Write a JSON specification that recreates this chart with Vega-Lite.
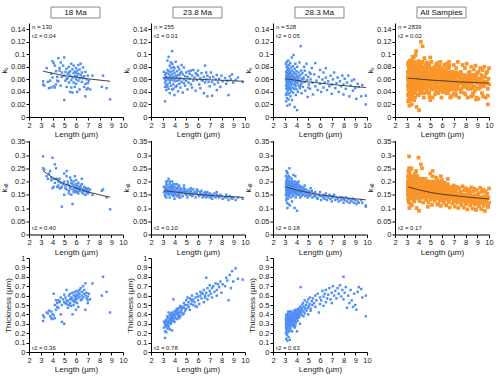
{
"$schema": "https://vega.github.io/schema/vega-lite/v6.json",
"padding": {"left": 0, "top": 6, "right": 0, "bottom": 0},
"data": {"format": {"type": "csv", "parse": {"L": "number", "ks": "number", "kse": "number", "th": "number"}}, "values": "g,L,ks,kse,th\na,3.2,0.057,0.295,0.33\na,3.2,0.052,0.25,0.39\na,3.3,0.050,0.245,0.37\na,3.5,0.078,0.22,0.42\na,3.7,0.046,0.23,0.44\na,3.8,0.058,0.24,0.38\na,3.9,0.047,0.205,0.36\na,3.9,0.069,0.215,0.43\na,4.0,0.089,0.29,0.40\na,4.0,0.063,0.175,0.35\na,4.1,0.049,0.21,0.62\na,4.1,0.086,0.18,0.39\na,4.2,0.082,0.265,0.36\na,4.3,0.073,0.25,0.55\na,4.3,0.052,0.21,0.45\na,4.4,0.064,0.18,0.52\na,4.5,0.094,0.2,0.55\na,4.5,0.057,0.185,0.47\na,4.6,0.078,0.21,0.54\na,4.7,0.050,0.175,0.40\na,4.7,0.087,0.195,0.58\na,4.8,0.064,0.105,0.32\na,4.8,0.071,0.18,0.5\na,4.9,0.082,0.19,0.56\na,5.0,0.027,0.15,0.30\na,5.0,0.066,0.2,0.61\na,5.0,0.095,0.23,0.53\na,5.1,0.072,0.185,0.52\na,5.1,0.058,0.175,0.58\na,5.2,0.077,0.22,0.55\na,5.2,0.048,0.17,0.66\na,5.3,0.069,0.19,0.47\na,5.3,0.062,0.2,0.54\na,5.4,0.080,0.165,0.6\na,5.4,0.055,0.185,0.5\na,5.5,0.040,0.215,0.56\na,5.5,0.073,0.18,0.62\na,5.5,0.066,0.175,0.52\na,5.6,0.085,0.195,0.58\na,5.6,0.059,0.205,0.49\na,5.7,0.039,0.115,0.40\na,5.7,0.076,0.17,0.55\na,5.7,0.063,0.19,0.63\na,5.8,0.082,0.185,0.54\na,5.8,0.055,0.16,0.6\na,5.8,0.070,0.2,0.5\na,5.9,0.065,0.175,0.57\na,5.9,0.048,0.165,0.64\na,6.0,0.078,0.18,0.59\na,6.0,0.060,0.19,0.61\na,6.0,0.070,0.205,0.55\na,6.1,0.040,0.17,0.52\na,6.1,0.074,0.16,0.65\na,6.1,0.065,0.185,0.57\na,6.2,0.083,0.175,0.63\na,6.2,0.058,0.195,0.6\na,6.2,0.069,0.155,0.48\na,6.3,0.076,0.17,0.66\na,6.3,0.062,0.18,0.58\na,6.3,0.044,0.165,0.62\na,6.4,0.085,0.185,0.68\na,6.4,0.067,0.175,0.55\na,6.5,0.071,0.16,0.6\na,6.5,0.056,0.19,0.64\na,6.6,0.079,0.17,0.58\na,6.6,0.062,0.155,0.7\na,6.7,0.065,0.18,0.62\na,6.7,0.048,0.165,0.66\na,6.8,0.053,0.17,0.45\na,6.8,0.072,0.15,0.73\na,6.8,0.033,0.175,0.6\na,6.9,0.060,0.16,0.57\na,6.9,0.044,0.17,0.63\na,7.0,0.046,0.165,0.55\na,7.0,0.066,0.155,0.59\na,7.0,0.054,0.175,0.52\na,7.1,0.058,0.16,0.62\na,7.2,0.044,0.17,0.56\na,7.4,0.066,0.15,0.73\na,8.2,0.048,0.165,0.60\na,8.3,0.066,0.17,0.80\na,8.6,0.046,0.14,0.64\na,8.9,0.028,0.095,0.42\na,3.6,0.056,0.21,0.41\na,4.2,0.047,0.195,0.5\na,4.4,0.058,0.21,0.48\na,4.6,0.074,0.175,0.53\na,5.2,0.061,0.24,0.51\na,5.9,0.072,0.22,0.53\na,6.5,0.063,0.21,0.56\na,6.0,0.053,0.16,0.45\na,5.4,0.071,0.155,0.5\na,5.6,0.047,0.15,0.57\nb,3.1,0.062,0.16,0.26\nb,3.2,0.025,0.15,0.15\nb,3.2,0.048,0.18,0.31\nb,3.2,0.067,0.17,0.33\nb,3.2,0.055,0.145,0.22\nb,3.3,0.070,0.19,0.30\nb,3.3,0.058,0.16,0.27\nb,3.3,0.043,0.175,0.34\nb,3.4,0.090,0.2,0.36\nb,3.4,0.062,0.155,0.29\nb,3.4,0.052,0.17,0.25\nb,3.4,0.075,0.185,0.38\nb,3.5,0.096,0.21,0.33\nb,3.5,0.060,0.165,0.31\nb,3.5,0.045,0.15,0.42\nb,3.5,0.069,0.175,0.28\nb,3.6,0.082,0.18,0.35\nb,3.6,0.055,0.16,0.32\nb,3.6,0.066,0.19,0.39\nb,3.6,0.038,0.14,0.24\nb,3.7,0.078,0.17,0.37\nb,3.7,0.063,0.155,0.33\nb,3.7,0.050,0.18,0.41\nb,3.7,0.072,0.165,0.30\nb,3.8,0.105,0.2,0.36\nb,3.8,0.059,0.16,0.39\nb,3.8,0.068,0.175,0.34\nb,3.8,0.044,0.15,0.23\nb,3.8,0.085,0.185,0.42\nb,3.9,0.064,0.17,0.38\nb,3.9,0.074,0.16,0.56\nb,3.9,0.052,0.145,0.35\nb,3.9,0.080,0.19,0.40\nb,4.0,0.061,0.165,0.37\nb,4.0,0.070,0.18,0.43\nb,4.0,0.035,0.135,0.32\nb,4.0,0.057,0.155,0.39\nb,4.1,0.088,0.19,0.41\nb,4.1,0.066,0.17,0.36\nb,4.1,0.048,0.15,0.44\nb,4.2,0.073,0.175,0.40\nb,4.2,0.058,0.16,0.35\nb,4.2,0.063,0.145,0.46\nb,4.3,0.080,0.18,0.42\nb,4.3,0.041,0.155,0.38\nb,4.3,0.067,0.17,0.45\nb,4.4,0.059,0.16,0.41\nb,4.4,0.076,0.185,0.39\nb,4.4,0.053,0.15,0.47\nb,4.5,0.070,0.165,0.43\nb,4.5,0.062,0.175,0.38\nb,4.5,0.047,0.14,0.49\nb,4.6,0.072,0.17,0.45\nb,4.6,0.056,0.155,0.42\nb,4.7,0.068,0.16,0.48\nb,4.7,0.039,0.145,0.40\nb,4.8,0.079,0.175,0.47\nb,4.8,0.060,0.165,0.52\nb,4.9,0.065,0.155,0.44\nb,4.9,0.050,0.17,0.50\nb,5.0,0.071,0.16,0.55\nb,5.0,0.058,0.15,0.46\nb,5.1,0.064,0.165,0.50\nb,5.1,0.044,0.14,0.58\nb,5.2,0.073,0.17,0.48\nb,5.2,0.055,0.155,0.53\nb,5.3,0.061,0.16,0.57\nb,5.3,0.069,0.15,0.45\nb,5.4,0.052,0.165,0.51\nb,5.5,0.066,0.155,0.54\nb,5.5,0.047,0.145,0.60\nb,5.6,0.075,0.17,0.50\nb,5.6,0.058,0.15,0.56\nb,5.7,0.063,0.16,0.53\nb,5.8,0.070,0.155,0.58\nb,5.8,0.042,0.14,0.49\nb,5.9,0.059,0.16,0.62\nb,6.0,0.066,0.15,0.55\nb,6.0,0.074,0.165,0.59\nb,6.1,0.052,0.145,0.51\nb,6.2,0.062,0.155,0.60\nb,6.2,0.046,0.16,0.64\nb,6.3,0.070,0.15,0.57\nb,6.4,0.058,0.14,0.62\nb,6.5,0.064,0.155,0.53\nb,6.5,0.038,0.145,0.66\nb,6.6,0.082,0.16,0.60\nb,6.6,0.055,0.15,0.58\nb,6.7,0.060,0.14,0.79\nb,6.7,0.071,0.155,0.63\nb,6.8,0.033,0.145,0.56\nb,6.8,0.066,0.16,0.68\nb,6.9,0.056,0.15,0.60\nb,7.0,0.063,0.14,0.65\nb,7.0,0.049,0.155,0.71\nb,7.1,0.071,0.145,0.62\nb,7.2,0.056,0.15,0.68\nb,7.2,0.034,0.135,0.58\nb,7.3,0.064,0.145,0.70\nb,7.4,0.052,0.155,0.64\nb,7.5,0.060,0.14,0.73\nb,7.6,0.067,0.15,0.66\nb,7.7,0.055,0.145,0.72\nb,7.8,0.061,0.14,0.69\nb,7.9,0.048,0.15,0.75\nb,8.0,0.066,0.145,0.63\nb,8.1,0.057,0.135,0.72\nb,8.3,0.062,0.14,0.70\nb,8.4,0.053,0.15,0.79\nb,8.5,0.058,0.14,0.76\nb,8.6,0.035,0.13,0.55\nb,8.7,0.065,0.145,0.82\nb,8.8,0.060,0.14,0.68\nb,8.9,0.068,0.135,0.86\nb,9.0,0.055,0.14,0.75\nb,9.2,0.059,0.13,0.89\nb,9.4,0.063,0.14,0.78\nb,9.8,0.056,0.135,0.77\nb,3.3,0.064,0.2,0.28\nb,3.4,0.048,0.165,0.32\nb,3.5,0.073,0.155,0.26\nb,3.6,0.059,0.2,0.36\nb,3.7,0.087,0.16,0.31\nb,3.9,0.045,0.18,0.33\nb,4.0,0.078,0.15,0.40\nb,4.2,0.050,0.19,0.42\nb,4.4,0.067,0.14,0.36\nb,4.6,0.083,0.16,0.47\nb,4.8,0.054,0.185,0.41\nb,5.4,0.074,0.175,0.56\nb,5.9,0.068,0.17,0.48\nb,6.3,0.059,0.165,0.63\nb,7.6,0.043,0.16,0.60\nb,3.2,0.060,0.16,0.29\nb,3.3,0.051,0.14,0.21\nb,3.1,0.072,0.18,0.32\nc,3.10,0.060,0.18,0.30\nc,3.10,0.085,0.22,0.35\nc,3.10,0.035,0.15,0.20\nc,3.11,0.050,0.19,0.27\nc,3.12,0.072,0.17,0.38\nc,3.12,0.025,0.13,0.14\nc,3.13,0.065,0.2,0.33\nc,3.14,0.045,0.16,0.25\nc,3.15,0.080,0.24,0.40\nc,3.15,0.055,0.175,0.31\nc,3.16,0.038,0.14,0.22\nc,3.17,0.068,0.19,0.36\nc,3.18,0.058,0.21,0.28\nc,3.18,0.088,0.17,0.34\nc,3.19,0.030,0.12,0.18\nc,3.20,0.062,0.185,0.32\nc,3.20,0.048,0.155,0.26\nc,3.21,0.075,0.2,0.37\nc,3.22,0.053,0.165,0.29\nc,3.22,0.018,0.1,0.12\nc,3.23,0.070,0.23,0.39\nc,3.24,0.042,0.15,0.24\nc,3.25,0.064,0.18,0.33\nc,3.25,0.082,0.195,0.30\nc,3.26,0.056,0.17,0.35\nc,3.27,0.036,0.135,0.21\nc,3.28,0.078,0.215,0.41\nc,3.28,0.060,0.16,0.28\nc,3.29,0.047,0.18,0.31\nc,3.30,0.067,0.19,0.36\nc,3.30,0.090,0.205,0.33\nc,3.31,0.052,0.15,0.27\nc,3.32,0.028,0.115,0.16\nc,3.33,0.063,0.175,0.34\nc,3.34,0.073,0.22,0.38\nc,3.35,0.044,0.165,0.29\nc,3.36,0.058,0.185,0.32\nc,3.37,0.083,0.2,0.42\nc,3.38,0.050,0.145,0.25\nc,3.39,0.066,0.17,0.35\nc,3.40,0.038,0.155,0.30\nc,3.40,0.076,0.195,0.37\nc,3.42,0.055,0.175,0.31\nc,3.43,0.020,0.11,0.13\nc,3.44,0.069,0.185,0.39\nc,3.45,0.061,0.16,0.28\nc,3.46,0.086,0.215,0.34\nc,3.47,0.046,0.17,0.36\nc,3.48,0.057,0.19,0.40\nc,3.50,0.072,0.175,0.32\nc,3.50,0.033,0.14,0.26\nc,3.52,0.064,0.2,0.37\nc,3.53,0.051,0.165,0.30\nc,3.55,0.079,0.185,0.43\nc,3.56,0.041,0.155,0.33\nc,3.57,0.059,0.17,0.35\nc,3.58,0.068,0.195,0.29\nc,3.60,0.095,0.21,0.41\nc,3.60,0.054,0.16,0.34\nc,3.62,0.027,0.125,0.22\nc,3.63,0.063,0.18,0.38\nc,3.65,0.074,0.17,0.31\nc,3.66,0.047,0.19,0.36\nc,3.68,0.058,0.15,0.40\nc,3.70,0.081,0.2,0.37\nc,3.70,0.066,0.175,0.33\nc,3.72,0.039,0.145,0.28\nc,3.74,0.060,0.185,0.42\nc,3.75,0.099,0.225,0.39\nc,3.77,0.052,0.165,0.35\nc,3.79,0.070,0.18,0.30\nc,3.80,0.045,0.16,0.44\nc,3.82,0.064,0.19,0.38\nc,3.84,0.016,0.1,0.26\nc,3.85,0.077,0.17,0.41\nc,3.87,0.056,0.155,0.36\nc,3.89,0.062,0.2,0.33\nc,3.90,0.085,0.185,0.43\nc,3.92,0.049,0.165,0.39\nc,3.94,0.035,0.14,0.31\nc,3.95,0.068,0.175,0.45\nc,3.97,0.058,0.19,0.37\nc,4.00,0.073,0.16,0.42\nc,4.00,0.044,0.15,0.35\nc,4.02,0.063,0.18,0.40\nc,4.05,0.011,0.09,0.22\nc,4.06,0.080,0.195,0.44\nc,4.08,0.054,0.17,0.38\nc,4.10,0.066,0.155,0.41\nc,4.12,0.040,0.165,0.36\nc,4.15,0.059,0.18,0.46\nc,4.18,0.071,0.2,0.39\nc,4.20,0.050,0.15,0.43\nc,4.22,0.063,0.17,0.37\nc,4.25,0.087,0.185,0.45\nc,4.28,0.046,0.16,0.41\nc,4.30,0.057,0.14,0.48\nc,4.33,0.067,0.175,0.40\nc,4.35,0.113,0.18,0.69\nc,4.38,0.052,0.155,0.44\nc,4.40,0.074,0.17,0.42\nc,4.43,0.038,0.145,0.47\nc,4.45,0.061,0.165,0.39\nc,4.48,0.055,0.18,0.50\nc,4.5,0.070,0.16,0.45\nc,4.55,0.048,0.15,0.52\nc,4.6,0.063,0.175,0.43\nc,4.65,0.080,0.165,0.48\nc,4.7,0.056,0.155,0.55\nc,4.75,0.042,0.145,0.46\nc,4.8,0.067,0.17,0.50\nc,4.85,0.085,0.16,0.44\nc,4.9,0.059,0.15,0.53\nc,4.95,0.032,0.14,0.47\nc,5.0,0.064,0.165,0.56\nc,5.05,0.052,0.155,0.49\nc,5.1,0.071,0.145,0.51\nc,5.15,0.045,0.16,0.58\nc,5.2,0.060,0.15,0.46\nc,5.3,0.078,0.165,0.54\nc,5.35,0.055,0.14,0.50\nc,5.4,0.036,0.155,0.57\nc,5.5,0.068,0.145,0.52\nc,5.6,0.049,0.15,0.48\nc,5.6,0.086,0.16,0.60\nc,5.7,0.058,0.14,0.55\nc,5.8,0.043,0.135,0.62\nc,5.9,0.064,0.15,0.42\nc,6.0,0.053,0.145,0.58\nc,6.0,0.075,0.16,0.51\nc,6.1,0.040,0.13,0.55\nc,6.2,0.060,0.145,0.65\nc,6.3,0.071,0.15,0.49\nc,6.3,0.047,0.14,0.59\nc,6.4,0.055,0.135,0.62\nc,6.5,0.078,0.155,0.53\nc,6.5,0.063,0.145,0.66\nc,6.6,0.043,0.13,0.57\nc,6.7,0.057,0.14,0.61\nc,6.8,0.049,0.15,0.68\nc,6.9,0.066,0.135,0.56\nc,7.0,0.052,0.145,0.63\nc,7.0,0.037,0.125,0.52\nc,7.1,0.060,0.14,0.70\nc,7.2,0.071,0.15,0.60\nc,7.3,0.046,0.13,0.65\nc,7.4,0.054,0.14,0.57\nc,7.5,0.063,0.135,0.68\nc,7.6,0.040,0.125,0.62\nc,7.7,0.057,0.14,0.71\nc,7.8,0.049,0.13,0.59\nc,7.9,0.066,0.14,0.66\nc,8.0,0.052,0.135,0.80\nc,8.0,0.036,0.12,0.56\nc,8.1,0.061,0.13,0.63\nc,8.2,0.045,0.14,0.69\nc,8.3,0.055,0.125,0.47\nc,8.4,0.066,0.135,0.60\nc,8.5,0.033,0.12,0.52\nc,8.6,0.050,0.13,0.66\nc,8.7,0.058,0.125,0.55\nc,8.8,0.042,0.135,0.48\nc,8.9,0.060,0.12,0.62\nc,9.0,0.046,0.13,0.50\nc,9.1,0.029,0.115,0.45\nc,9.2,0.053,0.125,0.64\nc,9.3,0.048,0.12,0.69\nc,9.5,0.033,0.13,0.67\nc,9.6,0.051,0.12,0.58\nc,9.9,0.034,0.11,0.60\nc,9.9,0.020,0.105,0.38\nc,3.6,0.062,0.165,0.39\nc,3.8,0.071,0.175,0.27\nc,4.1,0.058,0.19,0.33\nc,4.3,0.049,0.165,0.30\nc,4.6,0.061,0.17,0.38\nc,4.7,0.074,0.185,0.41\nc,5.0,0.047,0.16,0.40\nc,5.2,0.069,0.175,0.44\nc,3.15,0.064,0.2,0.24\nc,3.35,0.070,0.155,0.22\nc,3.5,0.045,0.18,0.23\nc,3.2,0.051,0.235,0.36\nc,3.4,0.059,0.25,0.43\nc,3.3,0.075,0.16,0.43\nc,3.9,0.052,0.22,0.28\no,3.10,0.072,0.198,\no,3.15,0.045,0.148,\no,3.20,0.061,0.183,\no,3.25,0.083,0.218,\no,3.30,0.052,0.163,\no,3.35,0.067,0.138,\no,3.40,0.038,0.203,\no,3.45,0.078,0.173,\no,3.50,0.057,0.207,\no,3.55,0.049,0.147,\no,3.60,0.088,0.182,\no,3.65,0.064,0.127,\no,3.70,0.031,0.202,\no,3.75,0.070,0.162,\no,3.80,0.055,0.187,\no,3.85,0.072,0.192,\no,3.90,0.045,0.142,\no,3.95,0.061,0.177,\no,4.00,0.083,0.206,\no,4.05,0.052,0.151,\no,4.10,0.067,0.126,\no,4.15,0.038,0.191,\no,4.20,0.120,0.161,\no,4.25,0.057,0.201,\no,4.30,0.049,0.141,\no,4.35,0.088,0.176,\no,4.40,0.064,0.121,\no,4.45,0.031,0.196,\no,4.50,0.070,0.151,\no,4.55,0.055,0.176,\no,4.60,0.072,0.181,\no,4.65,0.045,0.131,\no,4.70,0.061,0.166,\no,4.75,0.083,0.201,\no,4.80,0.052,0.146,\no,4.85,0.067,0.121,\no,4.90,0.038,0.186,\no,4.95,0.078,0.156,\no,5.00,0.057,0.192,\no,5.05,0.049,0.132,\no,5.10,0.088,0.167,\no,5.15,0.064,0.112,\no,5.20,0.031,0.187,\no,5.25,0.070,0.147,\no,5.30,0.055,0.172,\no,5.35,0.072,0.177,\no,5.40,0.045,0.127,\no,5.45,0.061,0.162,\no,5.50,0.083,0.193,\no,5.55,0.052,0.138,\no,5.60,0.067,0.113,\no,5.65,0.038,0.178,\no,5.70,0.078,0.148,\no,5.75,0.057,0.188,\no,5.80,0.049,0.128,\no,5.85,0.088,0.163,\no,5.90,0.064,0.108,\no,5.95,0.031,0.183,\no,6.00,0.070,0.14,\no,6.05,0.055,0.165,\no,6.10,0.072,0.17,\no,6.15,0.045,0.12,\no,6.20,0.061,0.155,\no,6.25,0.083,0.19,\no,6.30,0.052,0.135,\no,6.35,0.067,0.11,\no,6.40,0.038,0.175,\no,6.45,0.078,0.145,\no,6.50,0.057,0.182,\no,6.55,0.049,0.122,\no,6.60,0.088,0.157,\no,6.65,0.064,0.102,\no,6.70,0.031,0.177,\no,6.75,0.070,0.137,\no,6.80,0.055,0.162,\no,6.85,0.072,0.167,\no,6.90,0.045,0.117,\no,6.95,0.061,0.152,\no,7.00,0.083,0.185,\no,7.05,0.052,0.13,\no,7.10,0.067,0.105,\no,7.15,0.038,0.17,\no,7.20,0.078,0.14,\no,7.25,0.057,0.18,\no,7.30,0.049,0.12,\no,7.35,0.088,0.155,\no,7.40,0.064,0.1,\no,7.45,0.031,0.175,\no,7.50,0.070,0.132,\no,7.55,0.055,0.157,\no,7.60,0.072,0.162,\no,7.65,0.045,0.112,\no,7.70,0.061,0.147,\no,7.75,0.083,0.182,\no,7.80,0.052,0.127,\no,7.85,0.067,0.102,\no,7.90,0.038,0.167,\no,7.95,0.078,0.137,\no,8.00,0.057,0.175,\no,8.05,0.049,0.115,\no,8.10,0.085,0.15,\no,8.15,0.064,0.095,\no,8.20,0.031,0.17,\no,8.25,0.070,0.13,\no,8.30,0.055,0.155,\no,8.35,0.072,0.16,\no,8.40,0.045,0.11,\no,8.45,0.061,0.145,\no,8.50,0.080,0.178,\no,8.55,0.052,0.123,\no,8.60,0.067,0.098,\no,8.65,0.038,0.163,\no,8.70,0.076,0.133,\no,8.75,0.057,0.173,\no,8.80,0.049,0.113,\no,8.85,0.082,0.148,\no,8.90,0.064,0.093,\no,8.95,0.031,0.168,\no,9.00,0.070,0.126,\no,9.05,0.055,0.151,\no,9.10,0.072,0.156,\no,9.15,0.045,0.106,\no,9.20,0.061,0.141,\no,9.25,0.078,0.176,\no,9.30,0.052,0.121,\no,9.35,0.067,0.096,\no,9.40,0.038,0.161,\no,9.45,0.075,0.131,\no,9.50,0.057,0.169,\no,9.55,0.049,0.109,\no,9.60,0.080,0.144,\no,9.65,0.064,0.089,\no,9.70,0.031,0.164,\no,9.75,0.070,0.124,\no,9.80,0.055,0.149,\no,9.85,0.072,0.154,\no,9.90,0.045,0.104,\no,9.95,0.061,0.139,\no,10.0,0.078,0.174,\no,10.0,0.052,0.12,"},
"columns": 4,
"spacing": {"column": 28, "row": 23.5},
"bounds": "flush",
"concat": [
 {"width": 94, "height": 94,
  "layer": [
   {"transform": [{"filter": "datum.g == 'a'"}], "mark": {"type": "point", "shape": "square", "filled": true, "size": 6, "color": "#4f8ff5", "opacity": 1},
    "encoding": {"x": {"field": "L", "type": "quantitative", "scale": {"domain": [2, 10], "nice": false, "zero": false}, "axis": {"values": [2,3,4,5,6,7,8,9,10], "title": "Length (µm)"}},
                 "y": {"field": "ks", "type": "quantitative", "scale": {"domain": [0, 0.15], "nice": false, "zero": false}, "axis": {"values": [0,0.02,0.04,0.06,0.08,0.1,0.12,0.14], "format": "~g", "title": "kₛ"}}}},
   {"data": {"values": [{"L": 3.2, "ks": 0.073}, {"L": 5, "ks": 0.066}, {"L": 7, "ks": 0.061}, {"L": 8.9, "ks": 0.057}]}, "mark": {"type": "line", "color": "#444", "strokeWidth": 1},
    "encoding": {"x": {"field": "L", "type": "quantitative", "scale": {"domain": [2, 10], "nice": false, "zero": false}, "axis": {"values": [2,3,4,5,6,7,8,9,10], "title": "Length (µm)"}},
                 "y": {"field": "ks", "type": "quantitative", "scale": {"domain": [0, 0.15], "nice": false, "zero": false}, "axis": {"values": [0,0.02,0.04,0.06,0.08,0.1,0.12,0.14], "format": "~g", "title": "kₛ"}}}},
   {"data": {"values": [{"t": "n = 130"}]}, "mark": {"type": "text", "align": "left", "fontSize": 6, "color": "#222"},
    "encoding": {"x": {"datum": 2.25, "type": "quantitative", "scale": {"domain": [2, 10], "nice": false, "zero": false}, "axis": {"values": [2,3,4,5,6,7,8,9,10], "title": "Length (µm)"}},
                 "y": {"datum": 0.143, "type": "quantitative", "scale": {"domain": [0, 0.15], "nice": false, "zero": false}, "axis": {"values": [0,0.02,0.04,0.06,0.08,0.1,0.12,0.14], "format": "~g", "title": "kₛ"}}, "text": {"field": "t"}}},
   {"data": {"values": [{"t": "r2 = 0.04"}]}, "mark": {"type": "text", "align": "left", "fontSize": 6, "color": "#222"},
    "encoding": {"x": {"datum": 2.25, "type": "quantitative", "scale": {"domain": [2, 10], "nice": false, "zero": false}, "axis": {"values": [2,3,4,5,6,7,8,9,10], "title": "Length (µm)"}},
                 "y": {"datum": 0.13, "type": "quantitative", "scale": {"domain": [0, 0.15], "nice": false, "zero": false}, "axis": {"values": [0,0.02,0.04,0.06,0.08,0.1,0.12,0.14], "format": "~g", "title": "kₛ"}}, "text": {"field": "t"}}},
   {"data": {"values": [{"t": "18 Ma"}]}, "mark": {"type": "rect", "fill": "white", "stroke": "#888", "strokeWidth": 1},
    "encoding": {"x": {"datum": 3.87, "type": "quantitative", "scale": {"domain": [2, 10], "nice": false, "zero": false}, "axis": {"values": [2,3,4,5,6,7,8,9,10], "title": "Length (µm)"}}, "x2": {"datum": 8.04},
                 "y": {"datum": 0.158, "type": "quantitative", "scale": {"domain": [0, 0.15], "nice": false, "zero": false}, "axis": {"values": [0,0.02,0.04,0.06,0.08,0.1,0.12,0.14], "format": "~g", "title": "kₛ"}}, "y2": {"datum": 0.1755}}},
   {"data": {"values": [{"t": "18 Ma"}]}, "mark": {"type": "text", "fontSize": 8, "color": "#111"},
    "encoding": {"x": {"datum": 5.955, "type": "quantitative", "scale": {"domain": [2, 10], "nice": false, "zero": false}, "axis": {"values": [2,3,4,5,6,7,8,9,10], "title": "Length (µm)"}},
                 "y": {"datum": 0.1667, "type": "quantitative", "scale": {"domain": [0, 0.15], "nice": false, "zero": false}, "axis": {"values": [0,0.02,0.04,0.06,0.08,0.1,0.12,0.14], "format": "~g", "title": "kₛ"}}, "text": {"field": "t"}}}
  ]},
 {"width": 94, "height": 94,
  "layer": [
   {"transform": [{"filter": "datum.g == 'b'"}], "mark": {"type": "point", "shape": "square", "filled": true, "size": 6, "color": "#4f8ff5", "opacity": 1},
    "encoding": {"x": {"field": "L", "type": "quantitative", "scale": {"domain": [2, 10], "nice": false, "zero": false}, "axis": {"values": [2,3,4,5,6,7,8,9,10], "title": "Length (µm)"}},
                 "y": {"field": "ks", "type": "quantitative", "scale": {"domain": [0, 0.15], "nice": false, "zero": false}, "axis": {"values": [0,0.02,0.04,0.06,0.08,0.1,0.12,0.14], "format": "~g", "title": "kₛ"}}}},
   {"data": {"values": [{"L": 3.1, "ks": 0.063}, {"L": 5, "ks": 0.061}, {"L": 7.5, "ks": 0.059}, {"L": 9.9, "ks": 0.057}]}, "mark": {"type": "line", "color": "#444", "strokeWidth": 1},
    "encoding": {"x": {"field": "L", "type": "quantitative", "scale": {"domain": [2, 10], "nice": false, "zero": false}, "axis": {"values": [2,3,4,5,6,7,8,9,10], "title": "Length (µm)"}},
                 "y": {"field": "ks", "type": "quantitative", "scale": {"domain": [0, 0.15], "nice": false, "zero": false}, "axis": {"values": [0,0.02,0.04,0.06,0.08,0.1,0.12,0.14], "format": "~g", "title": "kₛ"}}}},
   {"data": {"values": [{"t": "n = 255"}]}, "mark": {"type": "text", "align": "left", "fontSize": 6, "color": "#222"},
    "encoding": {"x": {"datum": 2.25, "type": "quantitative", "scale": {"domain": [2, 10], "nice": false, "zero": false}, "axis": {"values": [2,3,4,5,6,7,8,9,10], "title": "Length (µm)"}},
                 "y": {"datum": 0.143, "type": "quantitative", "scale": {"domain": [0, 0.15], "nice": false, "zero": false}, "axis": {"values": [0,0.02,0.04,0.06,0.08,0.1,0.12,0.14], "format": "~g", "title": "kₛ"}}, "text": {"field": "t"}}},
   {"data": {"values": [{"t": "r2 = 0.01"}]}, "mark": {"type": "text", "align": "left", "fontSize": 6, "color": "#222"},
    "encoding": {"x": {"datum": 2.25, "type": "quantitative", "scale": {"domain": [2, 10], "nice": false, "zero": false}, "axis": {"values": [2,3,4,5,6,7,8,9,10], "title": "Length (µm)"}},
                 "y": {"datum": 0.13, "type": "quantitative", "scale": {"domain": [0, 0.15], "nice": false, "zero": false}, "axis": {"values": [0,0.02,0.04,0.06,0.08,0.1,0.12,0.14], "format": "~g", "title": "kₛ"}}, "text": {"field": "t"}}},
   {"data": {"values": [{"t": "23.8 Ma"}]}, "mark": {"type": "rect", "fill": "white", "stroke": "#888", "strokeWidth": 1},
    "encoding": {"x": {"datum": 3.87, "type": "quantitative", "scale": {"domain": [2, 10], "nice": false, "zero": false}, "axis": {"values": [2,3,4,5,6,7,8,9,10], "title": "Length (µm)"}}, "x2": {"datum": 8.04},
                 "y": {"datum": 0.158, "type": "quantitative", "scale": {"domain": [0, 0.15], "nice": false, "zero": false}, "axis": {"values": [0,0.02,0.04,0.06,0.08,0.1,0.12,0.14], "format": "~g", "title": "kₛ"}}, "y2": {"datum": 0.1755}}},
   {"data": {"values": [{"t": "23.8 Ma"}]}, "mark": {"type": "text", "fontSize": 8, "color": "#111"},
    "encoding": {"x": {"datum": 5.955, "type": "quantitative", "scale": {"domain": [2, 10], "nice": false, "zero": false}, "axis": {"values": [2,3,4,5,6,7,8,9,10], "title": "Length (µm)"}},
                 "y": {"datum": 0.1667, "type": "quantitative", "scale": {"domain": [0, 0.15], "nice": false, "zero": false}, "axis": {"values": [0,0.02,0.04,0.06,0.08,0.1,0.12,0.14], "format": "~g", "title": "kₛ"}}, "text": {"field": "t"}}}
  ]},
 {"width": 94, "height": 94,
  "layer": [
   {"transform": [{"filter": "datum.g == 'c'"}], "mark": {"type": "point", "shape": "square", "filled": true, "size": 6, "color": "#4f8ff5", "opacity": 1},
    "encoding": {"x": {"field": "L", "type": "quantitative", "scale": {"domain": [2, 10], "nice": false, "zero": false}, "axis": {"values": [2,3,4,5,6,7,8,9,10], "title": "Length (µm)"}},
                 "y": {"field": "ks", "type": "quantitative", "scale": {"domain": [0, 0.15], "nice": false, "zero": false}, "axis": {"values": [0,0.02,0.04,0.06,0.08,0.1,0.12,0.14], "format": "~g", "title": "kₛ"}}}},
   {"data": {"values": [{"L": 3.1, "ks": 0.061}, {"L": 5, "ks": 0.056}, {"L": 7.5, "ks": 0.051}, {"L": 9.9, "ks": 0.047}]}, "mark": {"type": "line", "color": "#444", "strokeWidth": 1},
    "encoding": {"x": {"field": "L", "type": "quantitative", "scale": {"domain": [2, 10], "nice": false, "zero": false}, "axis": {"values": [2,3,4,5,6,7,8,9,10], "title": "Length (µm)"}},
                 "y": {"field": "ks", "type": "quantitative", "scale": {"domain": [0, 0.15], "nice": false, "zero": false}, "axis": {"values": [0,0.02,0.04,0.06,0.08,0.1,0.12,0.14], "format": "~g", "title": "kₛ"}}}},
   {"data": {"values": [{"t": "n = 528"}]}, "mark": {"type": "text", "align": "left", "fontSize": 6, "color": "#222"},
    "encoding": {"x": {"datum": 2.25, "type": "quantitative", "scale": {"domain": [2, 10], "nice": false, "zero": false}, "axis": {"values": [2,3,4,5,6,7,8,9,10], "title": "Length (µm)"}},
                 "y": {"datum": 0.143, "type": "quantitative", "scale": {"domain": [0, 0.15], "nice": false, "zero": false}, "axis": {"values": [0,0.02,0.04,0.06,0.08,0.1,0.12,0.14], "format": "~g", "title": "kₛ"}}, "text": {"field": "t"}}},
   {"data": {"values": [{"t": "r2 = 0.05"}]}, "mark": {"type": "text", "align": "left", "fontSize": 6, "color": "#222"},
    "encoding": {"x": {"datum": 2.25, "type": "quantitative", "scale": {"domain": [2, 10], "nice": false, "zero": false}, "axis": {"values": [2,3,4,5,6,7,8,9,10], "title": "Length (µm)"}},
                 "y": {"datum": 0.13, "type": "quantitative", "scale": {"domain": [0, 0.15], "nice": false, "zero": false}, "axis": {"values": [0,0.02,0.04,0.06,0.08,0.1,0.12,0.14], "format": "~g", "title": "kₛ"}}, "text": {"field": "t"}}},
   {"data": {"values": [{"t": "28.3 Ma"}]}, "mark": {"type": "rect", "fill": "white", "stroke": "#888", "strokeWidth": 1},
    "encoding": {"x": {"datum": 3.87, "type": "quantitative", "scale": {"domain": [2, 10], "nice": false, "zero": false}, "axis": {"values": [2,3,4,5,6,7,8,9,10], "title": "Length (µm)"}}, "x2": {"datum": 8.04},
                 "y": {"datum": 0.158, "type": "quantitative", "scale": {"domain": [0, 0.15], "nice": false, "zero": false}, "axis": {"values": [0,0.02,0.04,0.06,0.08,0.1,0.12,0.14], "format": "~g", "title": "kₛ"}}, "y2": {"datum": 0.1755}}},
   {"data": {"values": [{"t": "28.3 Ma"}]}, "mark": {"type": "text", "fontSize": 8, "color": "#111"},
    "encoding": {"x": {"datum": 5.955, "type": "quantitative", "scale": {"domain": [2, 10], "nice": false, "zero": false}, "axis": {"values": [2,3,4,5,6,7,8,9,10], "title": "Length (µm)"}},
                 "y": {"datum": 0.1667, "type": "quantitative", "scale": {"domain": [0, 0.15], "nice": false, "zero": false}, "axis": {"values": [0,0.02,0.04,0.06,0.08,0.1,0.12,0.14], "format": "~g", "title": "kₛ"}}, "text": {"field": "t"}}}
  ]},
 {"width": 94, "height": 94,
  "layer": [
   {"mark": {"type": "point", "shape": "square", "filled": true, "size": 14, "color": "#f8962c", "opacity": 1},
    "encoding": {"x": {"field": "L", "type": "quantitative", "scale": {"domain": [2, 10], "nice": false, "zero": false}, "axis": {"values": [2,3,4,5,6,7,8,9,10], "title": "Length (µm)"}},
                 "y": {"field": "ks", "type": "quantitative", "scale": {"domain": [0, 0.15], "nice": false, "zero": false}, "axis": {"values": [0,0.02,0.04,0.06,0.08,0.1,0.12,0.14], "format": "~g", "title": "kₛ"}}}},
   {"data": {"values": [{"L": 3.1, "ks": 0.062}, {"L": 5, "ks": 0.059}, {"L": 7.5, "ks": 0.056}, {"L": 10, "ks": 0.054}]}, "mark": {"type": "line", "color": "#5a3a10", "strokeWidth": 1},
    "encoding": {"x": {"field": "L", "type": "quantitative", "scale": {"domain": [2, 10], "nice": false, "zero": false}, "axis": {"values": [2,3,4,5,6,7,8,9,10], "title": "Length (µm)"}},
                 "y": {"field": "ks", "type": "quantitative", "scale": {"domain": [0, 0.15], "nice": false, "zero": false}, "axis": {"values": [0,0.02,0.04,0.06,0.08,0.1,0.12,0.14], "format": "~g", "title": "kₛ"}}}},
   {"data": {"values": [{"t": "n = 2839"}]}, "mark": {"type": "text", "align": "left", "fontSize": 6, "color": "#222"},
    "encoding": {"x": {"datum": 2.25, "type": "quantitative", "scale": {"domain": [2, 10], "nice": false, "zero": false}, "axis": {"values": [2,3,4,5,6,7,8,9,10], "title": "Length (µm)"}},
                 "y": {"datum": 0.143, "type": "quantitative", "scale": {"domain": [0, 0.15], "nice": false, "zero": false}, "axis": {"values": [0,0.02,0.04,0.06,0.08,0.1,0.12,0.14], "format": "~g", "title": "kₛ"}}, "text": {"field": "t"}}},
   {"data": {"values": [{"t": "r2 = 0.02"}]}, "mark": {"type": "text", "align": "left", "fontSize": 6, "color": "#222"},
    "encoding": {"x": {"datum": 2.25, "type": "quantitative", "scale": {"domain": [2, 10], "nice": false, "zero": false}, "axis": {"values": [2,3,4,5,6,7,8,9,10], "title": "Length (µm)"}},
                 "y": {"datum": 0.13, "type": "quantitative", "scale": {"domain": [0, 0.15], "nice": false, "zero": false}, "axis": {"values": [0,0.02,0.04,0.06,0.08,0.1,0.12,0.14], "format": "~g", "title": "kₛ"}}, "text": {"field": "t"}}},
   {"data": {"values": [{"t": "All Samples"}]}, "mark": {"type": "rect", "fill": "white", "stroke": "#888", "strokeWidth": 1},
    "encoding": {"x": {"datum": 3.87, "type": "quantitative", "scale": {"domain": [2, 10], "nice": false, "zero": false}, "axis": {"values": [2,3,4,5,6,7,8,9,10], "title": "Length (µm)"}}, "x2": {"datum": 8.04},
                 "y": {"datum": 0.158, "type": "quantitative", "scale": {"domain": [0, 0.15], "nice": false, "zero": false}, "axis": {"values": [0,0.02,0.04,0.06,0.08,0.1,0.12,0.14], "format": "~g", "title": "kₛ"}}, "y2": {"datum": 0.1755}}},
   {"data": {"values": [{"t": "All Samples"}]}, "mark": {"type": "text", "fontSize": 8, "color": "#111"},
    "encoding": {"x": {"datum": 5.955, "type": "quantitative", "scale": {"domain": [2, 10], "nice": false, "zero": false}, "axis": {"values": [2,3,4,5,6,7,8,9,10], "title": "Length (µm)"}},
                 "y": {"datum": 0.1667, "type": "quantitative", "scale": {"domain": [0, 0.15], "nice": false, "zero": false}, "axis": {"values": [0,0.02,0.04,0.06,0.08,0.1,0.12,0.14], "format": "~g", "title": "kₛ"}}, "text": {"field": "t"}}}
  ]},
 {"width": 94, "height": 94,
  "layer": [
   {"transform": [{"filter": "datum.g == 'a'"}], "mark": {"type": "point", "shape": "square", "filled": true, "size": 6, "color": "#4f8ff5", "opacity": 1},
    "encoding": {"x": {"field": "L", "type": "quantitative", "scale": {"domain": [2, 10], "nice": false, "zero": false}, "axis": {"values": [2,3,4,5,6,7,8,9,10], "title": "Length (µm)"}},
                 "y": {"field": "kse", "type": "quantitative", "scale": {"domain": [0, 0.355], "nice": false, "zero": false}, "axis": {"values": [0,0.05,0.1,0.15,0.2,0.25,0.3,0.35], "format": "~g", "title": "kₛₑ"}}}},
   {"data": {"values": [{"L": 3.2, "kse": 0.24}, {"L": 4, "kse": 0.215}, {"L": 5, "kse": 0.192}, {"L": 6, "kse": 0.175}, {"L": 7, "kse": 0.161}, {"L": 8, "kse": 0.15}, {"L": 8.9, "kse": 0.141}]}, "mark": {"type": "line", "color": "#444", "strokeWidth": 1},
    "encoding": {"x": {"field": "L", "type": "quantitative", "scale": {"domain": [2, 10], "nice": false, "zero": false}, "axis": {"values": [2,3,4,5,6,7,8,9,10], "title": "Length (µm)"}},
                 "y": {"field": "kse", "type": "quantitative", "scale": {"domain": [0, 0.355], "nice": false, "zero": false}, "axis": {"values": [0,0.05,0.1,0.15,0.2,0.25,0.3,0.35], "format": "~g", "title": "kₛₑ"}}}},
   {"data": {"values": [{"t": "r2 = 0.40"}]}, "mark": {"type": "text", "align": "left", "fontSize": 6, "color": "#222"},
    "encoding": {"x": {"datum": 2.25, "type": "quantitative", "scale": {"domain": [2, 10], "nice": false, "zero": false}, "axis": {"values": [2,3,4,5,6,7,8,9,10], "title": "Length (µm)"}},
                 "y": {"datum": 0.024, "type": "quantitative", "scale": {"domain": [0, 0.355], "nice": false, "zero": false}, "axis": {"values": [0,0.05,0.1,0.15,0.2,0.25,0.3,0.35], "format": "~g", "title": "kₛₑ"}}, "text": {"field": "t"}}}
  ]},
 {"width": 94, "height": 94,
  "layer": [
   {"transform": [{"filter": "datum.g == 'b'"}], "mark": {"type": "point", "shape": "square", "filled": true, "size": 6, "color": "#4f8ff5", "opacity": 1},
    "encoding": {"x": {"field": "L", "type": "quantitative", "scale": {"domain": [2, 10], "nice": false, "zero": false}, "axis": {"values": [2,3,4,5,6,7,8,9,10], "title": "Length (µm)"}},
                 "y": {"field": "kse", "type": "quantitative", "scale": {"domain": [0, 0.355], "nice": false, "zero": false}, "axis": {"values": [0,0.05,0.1,0.15,0.2,0.25,0.3,0.35], "format": "~g", "title": "kₛₑ"}}}},
   {"data": {"values": [{"L": 3.1, "kse": 0.166}, {"L": 5, "kse": 0.155}, {"L": 7.5, "kse": 0.146}, {"L": 9.9, "kse": 0.14}]}, "mark": {"type": "line", "color": "#444", "strokeWidth": 1},
    "encoding": {"x": {"field": "L", "type": "quantitative", "scale": {"domain": [2, 10], "nice": false, "zero": false}, "axis": {"values": [2,3,4,5,6,7,8,9,10], "title": "Length (µm)"}},
                 "y": {"field": "kse", "type": "quantitative", "scale": {"domain": [0, 0.355], "nice": false, "zero": false}, "axis": {"values": [0,0.05,0.1,0.15,0.2,0.25,0.3,0.35], "format": "~g", "title": "kₛₑ"}}}},
   {"data": {"values": [{"t": "r2 = 0.10"}]}, "mark": {"type": "text", "align": "left", "fontSize": 6, "color": "#222"},
    "encoding": {"x": {"datum": 2.25, "type": "quantitative", "scale": {"domain": [2, 10], "nice": false, "zero": false}, "axis": {"values": [2,3,4,5,6,7,8,9,10], "title": "Length (µm)"}},
                 "y": {"datum": 0.024, "type": "quantitative", "scale": {"domain": [0, 0.355], "nice": false, "zero": false}, "axis": {"values": [0,0.05,0.1,0.15,0.2,0.25,0.3,0.35], "format": "~g", "title": "kₛₑ"}}, "text": {"field": "t"}}}
  ]},
 {"width": 94, "height": 94,
  "layer": [
   {"transform": [{"filter": "datum.g == 'c'"}], "mark": {"type": "point", "shape": "square", "filled": true, "size": 6, "color": "#4f8ff5", "opacity": 1},
    "encoding": {"x": {"field": "L", "type": "quantitative", "scale": {"domain": [2, 10], "nice": false, "zero": false}, "axis": {"values": [2,3,4,5,6,7,8,9,10], "title": "Length (µm)"}},
                 "y": {"field": "kse", "type": "quantitative", "scale": {"domain": [0, 0.355], "nice": false, "zero": false}, "axis": {"values": [0,0.05,0.1,0.15,0.2,0.25,0.3,0.35], "format": "~g", "title": "kₛₑ"}}}},
   {"data": {"values": [{"L": 3.1, "kse": 0.18}, {"L": 4, "kse": 0.168}, {"L": 5, "kse": 0.158}, {"L": 6, "kse": 0.15}, {"L": 7.5, "kse": 0.141}, {"L": 9.9, "kse": 0.131}]}, "mark": {"type": "line", "color": "#444", "strokeWidth": 1},
    "encoding": {"x": {"field": "L", "type": "quantitative", "scale": {"domain": [2, 10], "nice": false, "zero": false}, "axis": {"values": [2,3,4,5,6,7,8,9,10], "title": "Length (µm)"}},
                 "y": {"field": "kse", "type": "quantitative", "scale": {"domain": [0, 0.355], "nice": false, "zero": false}, "axis": {"values": [0,0.05,0.1,0.15,0.2,0.25,0.3,0.35], "format": "~g", "title": "kₛₑ"}}}},
   {"data": {"values": [{"t": "r2 = 0.18"}]}, "mark": {"type": "text", "align": "left", "fontSize": 6, "color": "#222"},
    "encoding": {"x": {"datum": 2.25, "type": "quantitative", "scale": {"domain": [2, 10], "nice": false, "zero": false}, "axis": {"values": [2,3,4,5,6,7,8,9,10], "title": "Length (µm)"}},
                 "y": {"datum": 0.024, "type": "quantitative", "scale": {"domain": [0, 0.355], "nice": false, "zero": false}, "axis": {"values": [0,0.05,0.1,0.15,0.2,0.25,0.3,0.35], "format": "~g", "title": "kₛₑ"}}, "text": {"field": "t"}}}
  ]},
 {"width": 94, "height": 94,
  "layer": [
   {"mark": {"type": "point", "shape": "square", "filled": true, "size": 14, "color": "#f8962c", "opacity": 1},
    "encoding": {"x": {"field": "L", "type": "quantitative", "scale": {"domain": [2, 10], "nice": false, "zero": false}, "axis": {"values": [2,3,4,5,6,7,8,9,10], "title": "Length (µm)"}},
                 "y": {"field": "kse", "type": "quantitative", "scale": {"domain": [0, 0.355], "nice": false, "zero": false}, "axis": {"values": [0,0.05,0.1,0.15,0.2,0.25,0.3,0.35], "format": "~g", "title": "kₛₑ"}}}},
   {"data": {"values": [{"L": 3.1, "kse": 0.18}, {"L": 4, "kse": 0.169}, {"L": 5, "kse": 0.159}, {"L": 6, "kse": 0.152}, {"L": 7, "kse": 0.147}, {"L": 8, "kse": 0.142}, {"L": 9, "kse": 0.138}, {"L": 10, "kse": 0.134}]}, "mark": {"type": "line", "color": "#5a3a10", "strokeWidth": 1},
    "encoding": {"x": {"field": "L", "type": "quantitative", "scale": {"domain": [2, 10], "nice": false, "zero": false}, "axis": {"values": [2,3,4,5,6,7,8,9,10], "title": "Length (µm)"}},
                 "y": {"field": "kse", "type": "quantitative", "scale": {"domain": [0, 0.355], "nice": false, "zero": false}, "axis": {"values": [0,0.05,0.1,0.15,0.2,0.25,0.3,0.35], "format": "~g", "title": "kₛₑ"}}}},
   {"data": {"values": [{"t": "r2 = 0.17"}]}, "mark": {"type": "text", "align": "left", "fontSize": 6, "color": "#222"},
    "encoding": {"x": {"datum": 2.25, "type": "quantitative", "scale": {"domain": [2, 10], "nice": false, "zero": false}, "axis": {"values": [2,3,4,5,6,7,8,9,10], "title": "Length (µm)"}},
                 "y": {"datum": 0.024, "type": "quantitative", "scale": {"domain": [0, 0.355], "nice": false, "zero": false}, "axis": {"values": [0,0.05,0.1,0.15,0.2,0.25,0.3,0.35], "format": "~g", "title": "kₛₑ"}}, "text": {"field": "t"}}}
  ]},
 {"width": 94, "height": 94,
  "layer": [
   {"transform": [{"filter": "datum.g == 'a'"}], "mark": {"type": "point", "shape": "square", "filled": true, "size": 6, "color": "#4f8ff5", "opacity": 1},
    "encoding": {"x": {"field": "L", "type": "quantitative", "scale": {"domain": [2, 10], "nice": false, "zero": false}, "axis": {"values": [2,3,4,5,6,7,8,9,10], "title": "Length (µm)"}},
                 "y": {"field": "th", "type": "quantitative", "scale": {"domain": [0, 1], "nice": false, "zero": false}, "axis": {"values": [0,0.1,0.2,0.3,0.4,0.5,0.6,0.7,0.8,0.9,1], "format": "~g", "title": "Thickness (µm)"}}}},
   {"data": {"values": [{"t": "r2 = 0.36"}]}, "mark": {"type": "text", "align": "left", "fontSize": 6, "color": "#222"},
    "encoding": {"x": {"datum": 2.25, "type": "quantitative", "scale": {"domain": [2, 10], "nice": false, "zero": false}, "axis": {"values": [2,3,4,5,6,7,8,9,10], "title": "Length (µm)"}},
                 "y": {"datum": 0.04, "type": "quantitative", "scale": {"domain": [0, 1], "nice": false, "zero": false}, "axis": {"values": [0,0.1,0.2,0.3,0.4,0.5,0.6,0.7,0.8,0.9,1], "format": "~g", "title": "Thickness (µm)"}}, "text": {"field": "t"}}}
  ]},
 {"width": 94, "height": 94,
  "layer": [
   {"transform": [{"filter": "datum.g == 'b'"}], "mark": {"type": "point", "shape": "square", "filled": true, "size": 6, "color": "#4f8ff5", "opacity": 1},
    "encoding": {"x": {"field": "L", "type": "quantitative", "scale": {"domain": [2, 10], "nice": false, "zero": false}, "axis": {"values": [2,3,4,5,6,7,8,9,10], "title": "Length (µm)"}},
                 "y": {"field": "th", "type": "quantitative", "scale": {"domain": [0, 1], "nice": false, "zero": false}, "axis": {"values": [0,0.1,0.2,0.3,0.4,0.5,0.6,0.7,0.8,0.9,1], "format": "~g", "title": "Thickness (µm)"}}}},
   {"data": {"values": [{"t": "r2 = 0.78"}]}, "mark": {"type": "text", "align": "left", "fontSize": 6, "color": "#222"},
    "encoding": {"x": {"datum": 2.25, "type": "quantitative", "scale": {"domain": [2, 10], "nice": false, "zero": false}, "axis": {"values": [2,3,4,5,6,7,8,9,10], "title": "Length (µm)"}},
                 "y": {"datum": 0.04, "type": "quantitative", "scale": {"domain": [0, 1], "nice": false, "zero": false}, "axis": {"values": [0,0.1,0.2,0.3,0.4,0.5,0.6,0.7,0.8,0.9,1], "format": "~g", "title": "Thickness (µm)"}}, "text": {"field": "t"}}}
  ]},
 {"width": 94, "height": 94,
  "layer": [
   {"transform": [{"filter": "datum.g == 'c'"}], "mark": {"type": "point", "shape": "square", "filled": true, "size": 6, "color": "#4f8ff5", "opacity": 1},
    "encoding": {"x": {"field": "L", "type": "quantitative", "scale": {"domain": [2, 10], "nice": false, "zero": false}, "axis": {"values": [2,3,4,5,6,7,8,9,10], "title": "Length (µm)"}},
                 "y": {"field": "th", "type": "quantitative", "scale": {"domain": [0, 1], "nice": false, "zero": false}, "axis": {"values": [0,0.1,0.2,0.3,0.4,0.5,0.6,0.7,0.8,0.9,1], "format": "~g", "title": "Thickness (µm)"}}}},
   {"data": {"values": [{"t": "r2 = 0.63"}]}, "mark": {"type": "text", "align": "left", "fontSize": 6, "color": "#222"},
    "encoding": {"x": {"datum": 2.25, "type": "quantitative", "scale": {"domain": [2, 10], "nice": false, "zero": false}, "axis": {"values": [2,3,4,5,6,7,8,9,10], "title": "Length (µm)"}},
                 "y": {"datum": 0.04, "type": "quantitative", "scale": {"domain": [0, 1], "nice": false, "zero": false}, "axis": {"values": [0,0.1,0.2,0.3,0.4,0.5,0.6,0.7,0.8,0.9,1], "format": "~g", "title": "Thickness (µm)"}}, "text": {"field": "t"}}}
  ]}
],
"config": {
 "font": "Liberation Sans",
 "view": {"stroke": null},
 "axis": {"grid": false, "domainColor": "#000", "tickColor": "#000", "labelColor": "#222", "titleColor": "#222", "labelFontSize": 7.5, "titleFontSize": 8, "titleFontWeight": "normal", "tickSize": 3, "labelPadding": 1, "titlePadding": 2, "domainWidth": 1, "tickWidth": 1, "labelOverlap": false, "labelFlush": false}
}
}
